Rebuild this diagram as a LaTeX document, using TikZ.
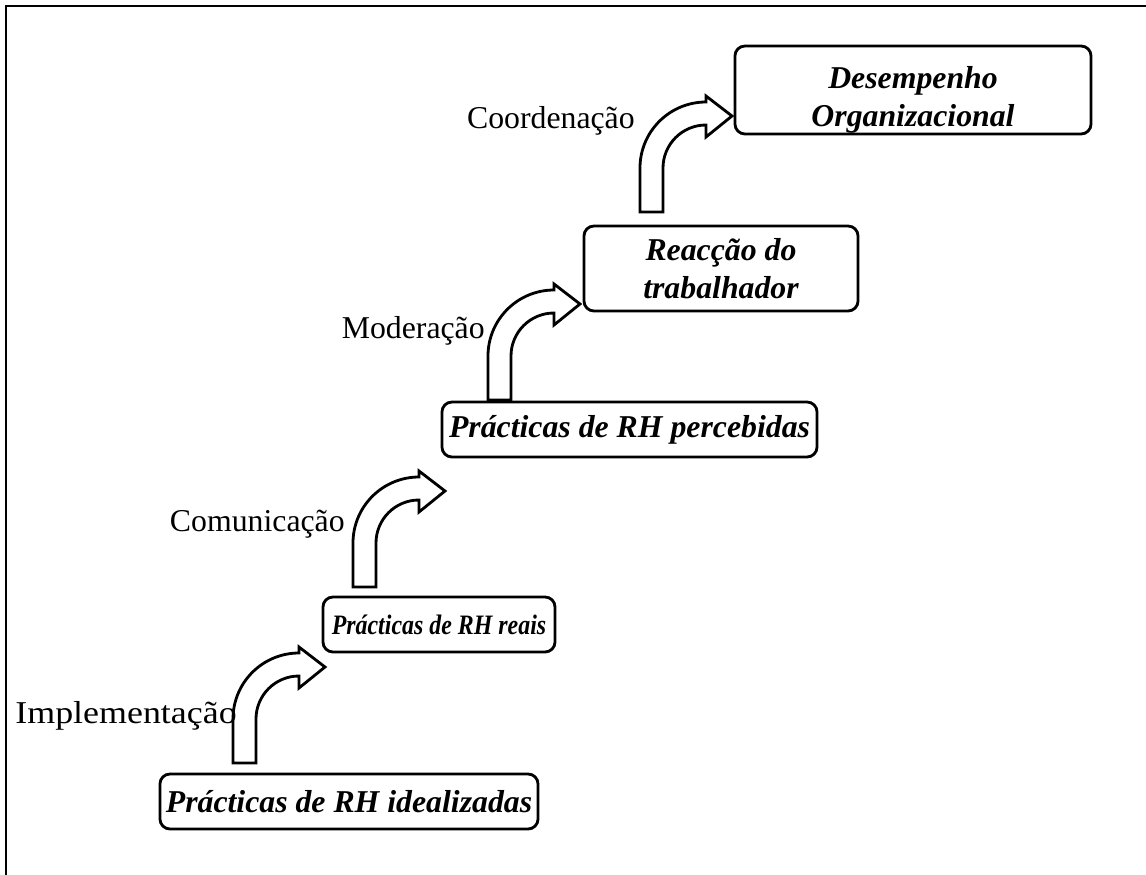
\documentclass[tikz,border=0pt]{standalone}
\usepackage{fontspec}
\usepackage{graphicx}
\setmainfont{Liberation Serif}
\usetikzlibrary{positioning}

\begin{document}
\begin{tikzpicture}[x=0.025cm, y=-0.025cm,
    stage/.style={draw, line width=2pt, rounded corners=0.25cm, align=center, inner sep=0pt,
      font=\fontsize{22.6}{27}\selectfont\bfseries\itshape},
    lbl/.style={anchor=base east, inner sep=0pt, font=\fontsize{22.6}{27}\selectfont},
    bentarrow/.pic={
      \draw[line width=2pt, fill=white] (0,0) -- (23,0) -- (23,-44)
        arc[start angle=180, end angle=270, radius=43] -- (66,-75) -- (92,-96) -- (66,-116) -- (66,-110)
        arc[start angle=270, end angle=180, radius=66] -- cycle;
    }]
        \useasboundingbox (0,0) rectangle (1146,875);
        % Frame
        \draw[line width=2pt] (6,875) -- (6,6) -- (1146,6);
        % Stages
        \node[stage, minimum width=9.45cm, minimum height=1.375cm] (ideal) at (349,801.5) {Prácticas de RH idealizadas};
        \node[stage, minimum width=5.8cm, minimum height=1.375cm, font=\fontsize{20}{24}\selectfont\bfseries\itshape] (reais) at (439,624.5) {\scalebox{0.85}[1]{Prácticas de RH reais}};
        \node[stage, minimum width=9.375cm, minimum height=1.375cm] (perceb) at (629.5,429.5) {Prácticas de RH percebidas};
        \node[stage, minimum width=6.85cm, minimum height=2.125cm] (reaccao) at (721,268.5) {Reacção do\\trabalhador};
        \node[stage, minimum width=8.9cm, minimum height=2.2cm] (desemp) at (913,90) {\rule{0pt}{30pt}Desempenho\\Organizacional};
        % Bent arrows
        \pic at (233,763) {bentarrow};
        \pic at (353,587) {bentarrow};
        \pic at (488,400) {bentarrow};
        \pic at (640,212) {bentarrow};
        % Labels
        \node[lbl] (implem) at (237,723) {\scalebox{1.13}[1]{Implementação}};
        \node[lbl] (comun) at (345,531) {Comunicação};
        \node[lbl] (moder) at (485,338) {Moderação};
        \node[lbl] (coord) at (635,128) {Coordenação};
      \end{tikzpicture}
\end{document}
